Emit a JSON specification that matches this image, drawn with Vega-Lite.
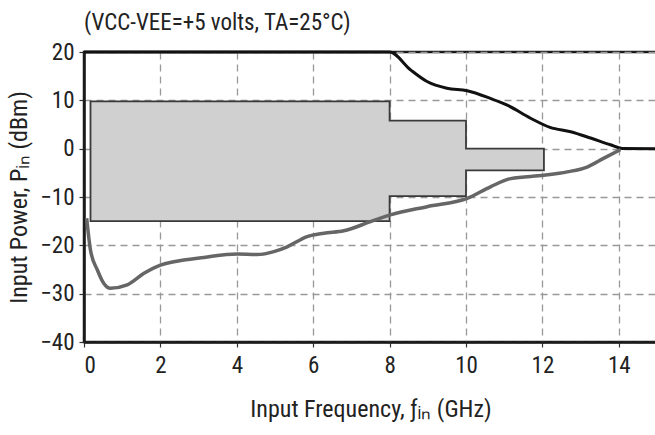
{
  "$schema": "https://vega.github.io/schema/vega-lite/v6.json",
  "width": 573,
  "height": 290,
  "autosize": {"type": "none"},
  "padding": {"left": 84, "top": 52, "right": 0, "bottom": 93},
  "background": "white",
  "title": {
    "text": "(VCC-VEE=+5 volts, TA=25°C)",
    "anchor": "start",
    "frame": "group",
    "offset": 6,
    "font": "Liberation Sans Narrow, Roboto Condensed, Roboto, sans-serif",
    "fontSize": 23,
    "fontWeight": "normal",
    "color": "#222"
  },
  "config": {
    "view": {"stroke": "#1a1a1a", "strokeWidth": 2.5},
    "axis": {
      "labelFont": "Liberation Sans Narrow, Roboto Condensed, Roboto, sans-serif",
      "titleFont": "Liberation Sans Narrow, Roboto Condensed, Roboto, sans-serif",
      "labelFontSize": 23,
      "titleFontSize": 24,
      "titleFontWeight": "normal",
      "labelColor": "#222",
      "titleColor": "#222",
      "domainColor": "#1a1a1a",
      "domainWidth": 2.5,
      "tickColor": "#333",
      "tickSize": 5,
      "tickWidth": 1.2,
      "grid": true,
      "gridColor": "#999999",
      "gridDash": [7, 5],
      "gridWidth": 1.3
    }
  },
  "datasets": {
    "region": [
      {"f": 0.17, "top": 9.8, "bottom": -15},
      {"f": 8, "top": 5.8, "bottom": -9.8},
      {"f": 10, "top": 0, "bottom": -4.5},
      {"f": 12.04, "top": 0, "bottom": -4.5}
    ],
    "upper": [
      {"f": 0, "p": 20},
      {"f": 8.0, "p": 20},
      {"f": 8.55, "p": 16.3},
      {"f": 8.98, "p": 13.9},
      {"f": 9.5, "p": 12.5},
      {"f": 10.03, "p": 12.0},
      {"f": 10.64, "p": 10.4},
      {"f": 11.08, "p": 9.0},
      {"f": 11.69, "p": 6.3},
      {"f": 12.2, "p": 4.4},
      {"f": 12.74, "p": 3.5},
      {"f": 13.26, "p": 2.2},
      {"f": 13.78, "p": 0.8},
      {"f": 14.09, "p": 0.05},
      {"f": 15, "p": 0}
    ],
    "lower": [
      {"f": 0.07, "p": -14.4},
      {"f": 0.17, "p": -21.0},
      {"f": 0.35, "p": -25.1},
      {"f": 0.52, "p": -27.9},
      {"f": 0.69, "p": -28.9},
      {"f": 1.13, "p": -28.2},
      {"f": 1.57, "p": -25.8},
      {"f": 2.0, "p": -24.1},
      {"f": 2.35, "p": -23.4},
      {"f": 3.14, "p": -22.5},
      {"f": 4.01, "p": -21.8},
      {"f": 4.53, "p": -21.9},
      {"f": 4.97, "p": -21.3},
      {"f": 5.32, "p": -20.3},
      {"f": 5.84, "p": -18.2},
      {"f": 6.28, "p": -17.5},
      {"f": 6.8, "p": -17.0},
      {"f": 7.5, "p": -15.1},
      {"f": 8.02, "p": -13.7},
      {"f": 8.98, "p": -12.0},
      {"f": 10.03, "p": -10.3},
      {"f": 10.64, "p": -7.9},
      {"f": 11.17, "p": -6.2},
      {"f": 12.04, "p": -5.5},
      {"f": 12.65, "p": -4.8},
      {"f": 13.17, "p": -3.8},
      {"f": 13.6, "p": -2.0},
      {"f": 14.04, "p": -0.2}
    ]
  },
  "layer": [
    {
      "data": {"name": "region"},
      "mark": {"type": "area", "interpolate": "step-after", "fill": "#d0d0d0", "stroke": "#3a3a3a", "strokeWidth": 1.8},
      "encoding": {
        "x": {
          "field": "f", "type": "quantitative",
          "scale": {"domain": [0, 15], "nice": false},
          "axis": {"values": [0, 2, 4, 6, 8, 10, 12, 14], "title": "Input Frequency, ƒᵢₙ (GHz)", "titlePadding": 20, "labelPadding": 7}
        },
        "y": {
          "field": "top", "type": "quantitative",
          "scale": {"domain": [-40, 20], "nice": false},
          "axis": {"values": [-40, -30, -20, -10, 0, 10, 20], "title": "Input Power, Pᵢₙ (dBm)", "titlePadding": 8, "labelPadding": 5}
        },
        "y2": {"field": "bottom"}
      }
    },
    {
      "data": {"name": "upper"},
      "mark": {"type": "line", "interpolate": "monotone", "color": "#111", "strokeWidth": 3},
      "encoding": {
        "x": {"field": "f", "type": "quantitative"},
        "y": {"field": "p", "type": "quantitative"}
      }
    },
    {
      "data": {"name": "lower"},
      "mark": {"type": "line", "interpolate": "monotone", "color": "#666", "strokeWidth": 3.5},
      "encoding": {
        "x": {"field": "f", "type": "quantitative"},
        "y": {"field": "p", "type": "quantitative"}
      }
    }
  ]
}
